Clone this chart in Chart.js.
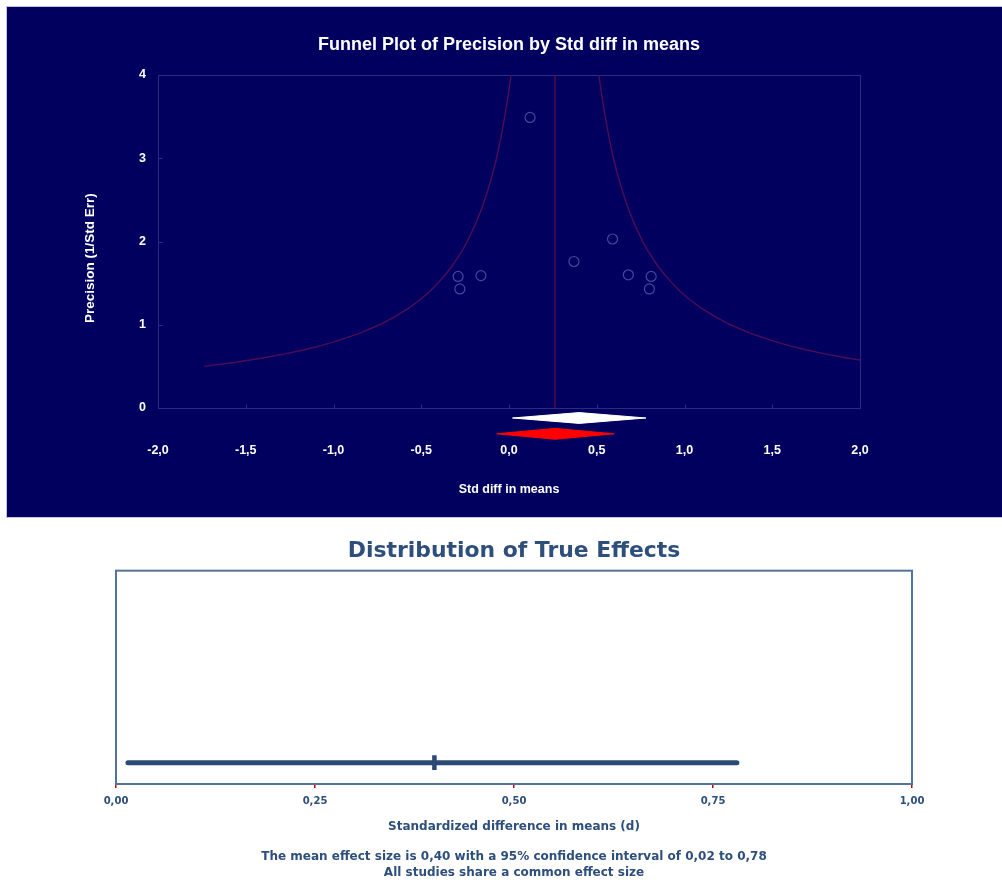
<!DOCTYPE html>
<html lang="en">
<head>
  <meta charset="UTF-8">
  <title>Funnel Plot and Distribution of True Effects</title>
  <style>
    html, body {
      margin: 0;
      padding: 0;
      background: #ffffff;
      width: 1002px;
      height: 883px;
      overflow: hidden;
    }
    #funnelWrap {
      position: absolute;
      left: 6px;
      top: 6px;
      border-left: 1px solid #c4c4e2;
      border-top: 1px solid #c4c4e2;
      border-bottom: 1px solid #c4c4e2;
      background: #01005f;
    }
    canvas { display: block; }
    #effectChart {
      position: absolute;
      left: 0;
      top: 525px;
    }
  </style>
</head>
<body>
  <div id="funnelWrap"><canvas id="funnelChart" width="995" height="510"></canvas></div>
  <canvas id="effectChart" width="1002" height="358"></canvas>

  <script src="https://cdn.jsdelivr.net/npm/chart.js"></script>
  <script>
    // funnel plot: studies (effect, precision)
    const studyEffect = [0.12, -0.29, -0.28, -0.16, 0.37, 0.59, 0.68, 0.81, 0.80];
    const studyPrecision = [3.49, 1.58, 1.43, 1.59, 1.76, 2.03, 1.60, 1.58, 1.43];

    // funnel limits
    const funnelPrecision = [0.5, 0.55, 0.6, 0.65, 0.7, 0.75, 0.8, 0.9, 1.0, 1.1, 1.2, 1.3, 1.4, 1.5,
      1.6, 1.7, 1.8, 1.9, 2.0, 2.2, 2.4, 2.6, 2.8, 3.0, 3.25, 3.5, 3.75, 4.0];
    const funnelLeft = [-1.738, -1.556, -1.405, -1.276, -1.167, -1.071, -0.988, -0.849, -0.738, -0.647,
      -0.571, -0.507, -0.452, -0.405, -0.363, -0.326, -0.294, -0.264, -0.238, -0.193, -0.155, -0.123,
      -0.095, -0.071, -0.046, -0.024, -0.005, 0.012];
    const funnelRight = [2.262, 2.080, 1.929, 1.800, 1.691, 1.595, 1.512, 1.373, 1.262, 1.171,
      1.095, 1.031, 0.976, 0.929, 0.887, 0.850, 0.818, 0.788, 0.762, 0.717, 0.679, 0.647,
      0.619, 0.595, 0.570, 0.548, 0.529, 0.512];

    // diamonds: [lower, point, upper]
    const observedDiamond = [0.02, 0.40, 0.78];
    const imputedDiamond = [-0.07, 0.262, 0.60];

    const xTickValues = [-2, -1.5, -1, -0.5, 0, 0.5, 1, 1.5, 2];
    const xTickLabels = ['-2,0', '-1,5', '-1,0', '-0,5', '0,0', '0,5', '1,0', '1,5', '2,0'];
    const yTickValues = [0, 1, 2, 3, 4];
    const yTickLabels = ['0', '1', '2', '3', '4'];

    // distribution of true effects
    const trueEffectCI = [0.015, 0.78];
    const trueEffectMean = 0.40;
    const dTickValues = [0, 0.25, 0.5, 0.75, 1];
    const dTickLabels = ['0,00', '0,25', '0,50', '0,75', '1,00'];

    Chart.defaults.font.family = "'Liberation Sans', Arial, sans-serif";
    Chart.defaults.animation = false;
    const wideFont = "'DejaVu Sans', Verdana, sans-serif";

    const pair = (xs, ys) => xs.map((x, i) => ({ x: x, y: ys[i] }));
    const diamond = (d, row) => [
      { x: d[0], y: row }, { x: d[1], y: row + 0.065 },
      { x: d[2], y: row }, { x: d[1], y: row - 0.065 }, { x: d[0], y: row }
    ];

    const funnelBox = {
      id: 'funnelBox',
      beforeDatasetsDraw(chart) {
        const { ctx, scales: { x, y } } = chart;
        const l = Math.round(x.getPixelForValue(-2)) + 0.5;
        const r = Math.round(x.getPixelForValue(2)) + 0.5;
        const t = Math.round(y.getPixelForValue(4)) + 0.5;
        const b = Math.round(y.getPixelForValue(0)) + 0.5;
        ctx.save();
        ctx.strokeStyle = '#2b2b82';
        ctx.lineWidth = 1;
        ctx.strokeRect(l, t, r - l, b - t);
        ctx.beginPath();
        xTickValues.forEach(v => {
          const px = Math.round(x.getPixelForValue(v)) + 0.5;
          ctx.moveTo(px, b); ctx.lineTo(px, b - 4);
        });
        yTickValues.forEach(v => {
          const py = Math.round(y.getPixelForValue(v)) + 0.5;
          ctx.moveTo(l, py); ctx.lineTo(l + 4, py);
        });
        ctx.stroke();
        ctx.restore();
      }
    };

    new Chart(document.getElementById('funnelChart'), {
      type: 'scatter',
      data: {
        datasets: [
          {
            data: pair(studyEffect, studyPrecision),
            pointRadius: 5,
            pointBorderWidth: 1.2,
            pointBorderColor: '#46469c',
            pointBackgroundColor: 'rgba(0,0,0,0)'
          },
          {
            data: pair(funnelLeft, funnelPrecision),
            showLine: true, pointRadius: 0,
            borderColor: '#4c0e52', borderWidth: 1.4
          },
          {
            data: pair(funnelRight, funnelPrecision),
            showLine: true, pointRadius: 0,
            borderColor: '#4c0e52', borderWidth: 1.4
          },
          {
            data: [{ x: imputedDiamond[1], y: 0 }, { x: imputedDiamond[1], y: 4 }],
            showLine: true, pointRadius: 0,
            borderColor: '#570c45', borderWidth: 1.4
          },
          {
            data: diamond(observedDiamond, -0.12),
            showLine: true, pointRadius: 0,
            borderColor: '#ffffff', borderWidth: 1,
            backgroundColor: '#ffffff', fill: 'shape'
          },
          {
            data: diamond(imputedDiamond, -0.31),
            showLine: true, pointRadius: 0,
            borderColor: '#ff0000', borderWidth: 1,
            backgroundColor: '#ff0000', fill: 'shape'
          }
        ]
      },
      options: {
        responsive: false,
        layout: { padding: { left: 0, right: 142, top: 0, bottom: 0 } },
        plugins: {
          legend: { display: false },
          tooltip: { enabled: false },
          title: {
            display: true,
            fullSize: false,
            text: 'Funnel Plot of Precision by Std diff in means',
            color: '#ffffff',
            font: { size: 18, weight: 'bold' },
            padding: { top: 27.2, bottom: 19.2 }
          }
        },
        scales: {
          x: {
            type: 'linear',
            min: -2,
            max: 2,
            afterBuildTicks: s => { s.ticks = xTickValues.map(v => ({ value: v })); },
            afterFit: s => { s.height = 75.7; },
            grid: { display: false, drawTicks: false },
            border: { display: false },
            ticks: {
              color: '#ffffff',
              font: { size: 12.5, weight: 'bold' },
              padding: 2,
              maxRotation: 0,
              callback: v => xTickLabels[xTickValues.indexOf(v)]
            },
            title: {
              display: true,
              text: 'Std diff in means',
              color: '#ffffff',
              font: { size: 12.5, weight: 'bold' },
              padding: { top: 0, bottom: 20.2 }
            }
          },
          y: {
            min: -0.4,
            max: 4,
            afterBuildTicks: s => { s.ticks = yTickValues.map(v => ({ value: v })); },
            afterFit: s => { s.width = 151; },
            grid: { display: false, drawTicks: false },
            border: { display: false },
            ticks: {
              color: '#ffffff',
              font: { size: 12.5, weight: 'bold' },
              padding: 12,
              callback: v => yTickLabels[yTickValues.indexOf(v)]
            },
            title: {
              display: true,
              text: 'Precision (1/Std Err)',
              color: '#ffffff',
              font: { size: 13.5, weight: 'bold' },
              padding: { top: 74.9, bottom: 0 }
            }
          }
        }
      },
      plugins: [funnelBox]
    });

    const effectBox = {
      id: 'effectBox',
      afterDatasetsDraw(chart) {
        const { ctx, chartArea: a } = chart;
        ctx.save();
        ctx.strokeStyle = '#54739b';
        ctx.lineWidth = 2;
        ctx.strokeRect(a.left, a.top, a.right - a.left, a.bottom - a.top);
        ctx.restore();
      }
    };

    const steel = '#2e4e7c';

    new Chart(document.getElementById('effectChart'), {
      type: 'scatter',
      data: {
        datasets: [
          {
            data: [{ x: trueEffectCI[0], y: 1 }, { x: trueEffectCI[1], y: 1 }],
            showLine: true, pointRadius: 0,
            borderColor: '#2b4a73', borderWidth: 5, borderCapStyle: 'round'
          },
          {
            data: [{ x: trueEffectMean, y: 1 }],
            pointStyle: 'line', pointRotation: 90, pointRadius: 7.3,
            pointBorderWidth: 4.5, pointBorderColor: '#2b4a73'
          }
        ]
      },
      options: {
        responsive: false,
        layout: { padding: { left: 116, right: 90, top: 0, bottom: 0 } },
        plugins: {
          legend: { display: false },
          tooltip: { enabled: false },
          title: {
            display: true,
            fullSize: false,
            text: 'Distribution of True Effects',
            color: steel,
            font: { family: wideFont, size: 21.9, weight: 'bold' },
            padding: { top: 13.55, bottom: 5.85 }
          },
          subtitle: {
            display: true,
            fullSize: false,
            position: 'bottom',
            text: ['The mean effect size is 0,40 with a 95% confidence interval of 0,02 to 0,78',
                   'All studies share a common effect size'],
            color: steel,
            font: { family: wideFont, size: 12, weight: 'bold', lineHeight: '16px' },
            padding: { top: 4, bottom: 2 }
          }
        },
        scales: {
          x: {
            type: 'linear',
            min: 0,
            max: 1,
            afterBuildTicks: s => { s.ticks = dTickValues.map(v => ({ value: v })); },
            afterFit: s => { s.height = 61; },
            grid: {
              display: true,
              drawOnChartArea: false,
              drawTicks: true,
              tickLength: 4,
              color: '#c00000',
              lineWidth: 1.5
            },
            border: { display: false },
            ticks: {
              color: steel,
              font: { family: wideFont, size: 10, weight: 'bold' },
              padding: 7.7,
              maxRotation: 0,
              callback: v => dTickLabels[dTickValues.indexOf(v)]
            },
            title: {
              display: true,
              text: 'Standardized difference in means (d)',
              color: steel,
              font: { family: wideFont, size: 12, weight: 'bold' },
              padding: { top: 0, bottom: 10.8 }
            }
          },
          y: {
            display: false,
            min: 0,
            max: 10
          }
        }
      },
      plugins: [effectBox]
    });
  </script>
</body>
</html>
